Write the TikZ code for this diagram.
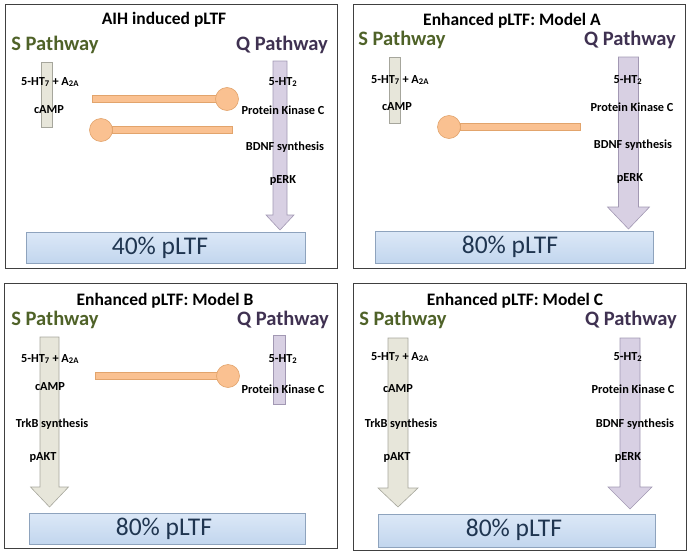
\documentclass[tikz,border=0pt]{standalone}
\usepackage{fontspec}
\setmainfont{Carlito}

\definecolor{sgreen}{HTML}{4F6228}
\definecolor{qpurple}{HTML}{3F3151}
\definecolor{sfill}{HTML}{E7E6DA}
\definecolor{sline}{HTML}{A6A69C}
\definecolor{qfill}{HTML}{D8D0E3}
\definecolor{qline}{HTML}{A298B3}
\definecolor{inhfill}{HTML}{FAC191}
\definecolor{inhline}{HTML}{E2A46C}
\definecolor{restop}{HTML}{DCE8F7}
\definecolor{resbot}{HTML}{C2D6EE}
\definecolor{resline}{HTML}{8EA3BD}
\definecolor{restext}{HTML}{1F3550}

% block arrow pointing down: x centre, top, end of shaft, tip, half shaft, half head
\newcommand{\downblock}[7]{%
  \draw[#1] (#2-#6,#3) -- (#2+#6,#3) -- (#2+#6,#4) -- (#2+#7,#4)
    -- (#2,#5) -- (#2-#7,#4) -- (#2-#6,#4) -- cycle;}

\begin{document}
\begin{tikzpicture}[x=1pt, y=-1pt,
    panel/.style={draw=black!75, line width=0.9pt},
    title/.style={font=\fontsize{17.5}{20}\selectfont\bfseries},
    spath/.style={font=\fontsize{20.5}{24}\selectfont\bfseries, text=sgreen},
    qpath/.style={font=\fontsize{20.5}{24}\selectfont\bfseries, text=qpurple},
    lab/.style={font=\fontsize{12.3}{14}\selectfont\bfseries, inner sep=0pt},
    sbar/.style={fill=sfill, draw=sline, line width=0.6pt},
    qbar/.style={fill=qfill, draw=qline, line width=0.6pt},
    inh/.style={fill=inhfill, draw=inhline, line width=0.6pt},
    result/.style={top color=restop, bottom color=resbot, draw=resline, line width=0.8pt},
    restxt/.style={font=\fontsize{25.5}{30}\selectfont, text=restext}]

    \useasboundingbox (0,0) rectangle (691,554);

    % panel 1: AIH induced pLTF
    \draw[panel] (5,4) rectangle (337,268);
    \node[title] (t1) at (164,20) {AIH induced pLTF};
    \node[spath] (s1) at (55,45) {S Pathway};
    \node[qpath] (q1) at (282,45) {Q Pathway};
    \draw[sbar] (41,62) rectangle (52,127);
    \node[lab] (s1a) at (50,82) {5-HT\textsubscript{7} + A\textsubscript{2A}};
    \node[lab] (s1b) at (49,110) {cAMP};
    \downblock{qbar}{280}{61}{215}{230}{7}{14}
    \node[lab] (q1a) at (283,82) {5-HT\textsubscript{2}};
    \node[lab] (q1b) at (283,110) {Protein Kinase C};
    \node[lab] (q1c) at (285,147) {BDNF synthesis};
    \node[lab] (q1d) at (283,180) {pERK};
    \draw[inh] (92,95.5) rectangle (216,102.5);
    \draw[inh] (227,99) circle (11.5);
    \draw[inh] (112,126.5) rectangle (232,133.5);
    \draw[inh] (101,130) circle (11.5);
    \draw[result] (26,232) rectangle (305,263);
    \node[restxt] (r1) at (160,248) {40\% pLTF};

    % panel 2: Model A
    \draw[panel] (353,4) rectangle (685,268);
    \node[title] (t2) at (512,21) {Enhanced pLTF: Model A};
    \node[spath] (s2) at (402,40) {S Pathway};
    \node[qpath] (q2) at (630,40) {Q Pathway};
    \draw[sbar] (389,57) rectangle (400,123);
    \node[lab] (s2a) at (400,80) {5-HT\textsubscript{7} + A\textsubscript{2A}};
    \node[lab] (s2b) at (397,107) {cAMP};
    \downblock{qbar}{628.5}{57}{207}{229}{10}{21}
    \node[lab] (q2a) at (628,80) {5-HT\textsubscript{2}};
    \node[lab] (q2b) at (632,107) {Protein Kinase C};
    \node[lab] (q2c) at (633,145) {BDNF synthesis};
    \node[lab] (q2d) at (630,178) {pERK};
    \draw[inh] (460,123.5) rectangle (580,130.5);
    \draw[inh] (449,127) circle (11.5);
    \draw[result] (375,231) rectangle (653,263);
    \node[restxt] (r2) at (510,247) {80\% pLTF};

    % panel 3: Model B
    \draw[panel] (4,283) rectangle (337,548);
    \node[title] (t3) at (165,301) {Enhanced pLTF: Model B};
    \node[spath] (s3) at (55,320) {S Pathway};
    \node[qpath] (q3) at (283,320) {Q Pathway};
    \downblock{sbar}{49.5}{337}{487}{507}{9.5}{19}
    \node[lab] (s3a) at (50,359) {5-HT\textsubscript{7} + A\textsubscript{2A}};
    \node[lab] (s3b) at (50,387) {cAMP};
    \node[lab] (s3c) at (52,424) {TrkB synthesis};
    \node[lab] (s3d) at (43,457) {pAKT};
    \draw[qbar] (273,335) rectangle (285,404);
    \node[lab] (q3a) at (283,359) {5-HT\textsubscript{2}};
    \node[lab] (q3b) at (283,389) {Protein Kinase C};
    \draw[inh] (95,372.5) rectangle (218,379.5);
    \draw[inh] (228,376) circle (11.5);
    \draw[result] (29,513) rectangle (305,544);
    \node[restxt] (r3) at (164,529) {80\% pLTF};

    % panel 4: Model C
    \draw[panel] (353,283) rectangle (686,550);
    \node[title] (t4) at (515,301) {Enhanced pLTF: Model C};
    \node[spath] (s4) at (403,320) {S Pathway};
    \node[qpath] (q4) at (631,320) {Q Pathway};
    \downblock{sbar}{398}{338}{488}{507}{10}{20}
    \node[lab] (s4a) at (400,357) {5-HT\textsubscript{7} + A\textsubscript{2A}};
    \node[lab] (s4b) at (398,389) {cAMP};
    \node[lab] (s4c) at (401,424) {TrkB synthesis};
    \node[lab] (s4d) at (397,457) {pAKT};
    \downblock{qbar}{630}{338}{487}{509}{10}{22}
    \node[lab] (q4a) at (628,357) {5-HT\textsubscript{2}};
    \node[lab] (q4b) at (633,389) {Protein Kinase C};
    \node[lab] (q4c) at (635,424) {BDNF synthesis};
    \node[lab] (q4d) at (628,457) {pERK};
    \draw[result] (378,514) rectangle (655,547);
    \node[restxt] (r4) at (514,530) {80\% pLTF};
\end{tikzpicture}
\end{document}
